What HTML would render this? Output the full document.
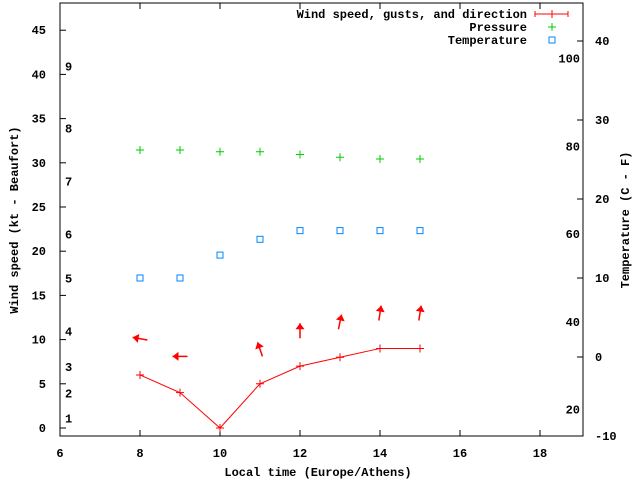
<!DOCTYPE html>
<html><head><meta charset="utf-8"><style>
body{margin:0;background:#fff}
svg{display:block;font-family:"Liberation Mono",monospace;font-size:12px;font-weight:bold}
</style></head><body>
<svg id="c" width="640" height="480">
<rect x="0" y="0" width="640" height="480" fill="#fff"/>
<g id="axes"></g>
<g id="series"></g>
</svg>
<script>
const hours=[8,9,10,11,12,13,14,15];
const windSpeed=[6,4,0,5,7,8,9,9];
const gustSpeed=[10.1,8.1,8.9,8.9,11,12,13,13];
const windDir=[170,180,180,109,90,78,81,81];
const pressure=[1015.0,1015.0,1014.8,1014.8,1014.5,1014.2,1014.0,1014.0];
const temperature=[10,10,12.9,14.9,16,16,16,16];
const xTicks=[6,8,10,12,14,16,18];
const yTicks=[0,5,10,15,20,25,30,35,40,45];
const y2Ticks=[-10,0,10,20,30,40];
const beaufort=[[1,1.1],[2,3.9],[3,6.9],[4,10.9],[5,16.9],[6,21.9],[7,27.9],[8,33.9],[9,40.9]];
const fahr=[20,40,60,80,100];

const L=60,R=583,T=3,B=436;
const X=v=>L+(v-6)*40;
const Y=v=>428-v*8.84;
const Y2=v=>357-v*7.9;
const YP=v=>150+(1015-v)*9;
const NS="http://www.w3.org/2000/svg";
function mk(tag,attrs,parent,text){const e=document.createElementNS(NS,tag);for(const k in attrs)e.setAttribute(k,attrs[k]);if(text!==undefined)e.textContent=text;parent.appendChild(e);return e;}
const ax=document.getElementById('axes'),se=document.getElementById('series');

let b=mk('rect',{x:L,y:T,width:R-L,height:B-T,fill:'none',stroke:'#000','stroke-width':1},ax);


xTicks.forEach(v=>{
  mk('line',{x1:X(v),x2:X(v),y1:B,y2:B-6,stroke:'#000'},ax);
  mk('line',{x1:X(v),x2:X(v),y1:T,y2:T+6,stroke:'#000'},ax);
  let t=mk('text',{x:X(v),y:B+21,'text-anchor':'middle'},ax,v);
  
  
});
yTicks.forEach(v=>{
  mk('line',{x1:L,x2:L+6,y1:Y(v),y2:Y(v),stroke:'#000'},ax);
  let t=mk('text',{x:L-14,y:Y(v)+4,'text-anchor':'end'},ax,v);
  
  
});
y2Ticks.forEach(v=>{
  mk('line',{x1:R,x2:R-6,y1:Y2(v),y2:Y2(v),stroke:'#000'},ax);
  let t=mk('text',{x:R+12,y:Y2(v)+4,'text-anchor':'start'},ax,v);
  
  
});
beaufort.forEach(([n,kt])=>{
  let t=mk('text',{x:65,y:Y(kt)+4},ax,n);
  
  
});
fahr.forEach(f=>{
  let t=mk('text',{x:580,y:Y2((f-32)*5/9)+4,'text-anchor':'end'},ax,f);
  
  
});
let xt=mk('text',{x:318,y:476,'text-anchor':'middle'},ax,'Local time (Europe/Athens)');


let yt=mk('text',{x:0,y:0,'text-anchor':'middle',transform:'translate(18,220) rotate(-90)'},ax,'Wind speed (kt - Beaufort)');


let y2t=mk('text',{x:0,y:0,'text-anchor':'middle',transform:'translate(629,220) rotate(-90)'},ax,'Temperature (C - F)');



const leg=[['Wind speed, gusts, and direction',18],['Pressure',31],['Temperature',44]];
leg.forEach(([s,y])=>{
  let t=mk('text',{x:527,y:y,'text-anchor':'end'},ax,s);
  
  
});
mk('line',{x1:535,x2:568,y1:14,y2:14,stroke:'#f00'},ax);
mk('line',{x1:535,x2:535,y1:11,y2:17,stroke:'#f00'},ax);
mk('line',{x1:568,x2:568,y1:11,y2:17,stroke:'#f00'},ax);
mk('line',{x1:552,x2:552,y1:10,y2:18,stroke:'#f00'},ax);
mk('path',{d:'M548,27h8M552,23v8',stroke:'#0c0',fill:'none'},ax);
mk('rect',{x:549,y:37,width:6,height:6,stroke:'#08f',fill:'none'},ax);

let pl=mk('polyline',{points:hours.map((h,i)=>X(h)+','+Y(windSpeed[i])).join(' '),fill:'none',stroke:'#f00'},se);


hours.forEach((h,i)=>{
  let p=mk('path',{d:`M${X(h)-4},${Y(windSpeed[i])}h8M${X(h)},${Y(windSpeed[i])-4}v8`,stroke:'#f00'},se);
  
  
});
hours.forEach((h,i)=>{
  if(i===2) return;
  const cx=X(h),cy=Y(gustSpeed[i]),a=windDir[i]*Math.PI/180,l=7.5;
  const dx=Math.cos(a),dy=-Math.sin(a);
  const hx=cx+dx*l,hy=cy+dy*l,tx=cx-dx*l,ty=cy-dy*l;
  const px=-dy,py=dx;
  const g=mk('g',{},se);
  
  
  mk('line',{x1:tx,y1:ty,x2:hx,y2:hy,stroke:'#f00','stroke-width':1.5},g);
  mk('polygon',{points:`${hx},${hy} ${hx-dx*6+px*4.5},${hy-dy*6+py*4.5} ${hx-dx*6-px*4.5},${hy-dy*6-py*4.5}`,fill:'#f00'},g);
});
hours.forEach((h,i)=>{
  let p=mk('path',{d:`M${X(h)-4},${YP(pressure[i])}h8M${X(h)},${YP(pressure[i])-4}v8`,stroke:'#0c0'},se);
  
  
});
hours.forEach((h,i)=>{
  let r=mk('rect',{x:X(h)-3,y:Y2(temperature[i])-3,width:6,height:6,fill:'none',stroke:'#08f'},se);
  
  
});
</script>
</body></html>
